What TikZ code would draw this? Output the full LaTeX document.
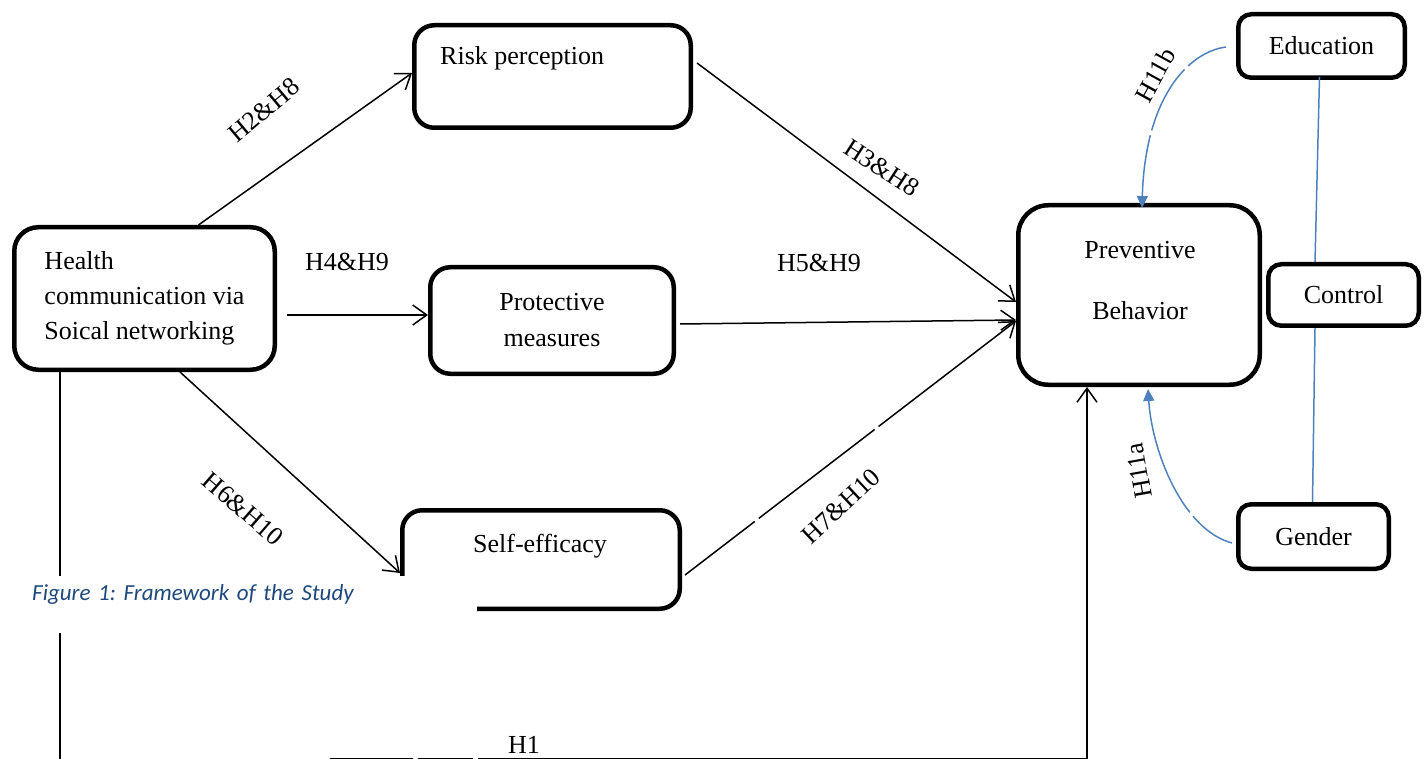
\documentclass[tikz,border=0pt]{standalone}
\usepackage{fontspec}
\setmainfont{Liberation Serif}
\newfontfamily\capfont[WordSpace=0.8]{Carlito}
\usetikzlibrary{arrows.meta,calc}
\definecolor{ublue}{HTML}{4F81BD}
\definecolor{capblue}{HTML}{1F497D}
\begin{document}
\begin{tikzpicture}[x=1pt,y=-1pt,
  box/.style={draw, line width=4.5pt, rounded corners=20pt, inner sep=0pt},
  txt/.style={font=\fontsize{26}{35}\selectfont, inner sep=0pt},
  lab/.style={font=\fontsize{26}{30}\selectfont, inner sep=0pt},
  arr/.style={line width=1.5pt, -{Straight Barb[length=14pt,width=20pt]}},
  bl/.style={draw=ublue, line width=1.5pt},
  blarr/.style={bl, -{Triangle[length=12pt,width=11pt]}}]
\useasboundingbox (0,0) rectangle (1427,759);

% boxes
\node[box, txt, align=left, minimum width=260.5pt, minimum height=142.5pt, rounded corners=24pt] (hc) at (144.5,298.5) {Health\\communication via\\Soical networking};
\node[box, minimum width=276.5pt, minimum height=102.5pt] (rp) at (552.5,76.5) {};
\node[txt, anchor=west] (rpt) at (440,58) {Risk perception};
\node[box, txt, align=center, minimum width=243.5pt, minimum height=106.5pt, font=\fontsize{26}{36}\selectfont] (pm) at (552,320.5) {Protective\\measures};
\node[box, minimum width=277.5pt, minimum height=98.5pt] (se) at (541,559.5) {};
\node[txt] (set) at (540,546) {Self-efficacy};
\node[box, minimum width=241.5pt, minimum height=179.5pt, rounded corners=30pt] (pb) at (1139,295) {};
\node[txt, align=center, font=\fontsize{26}{61}\selectfont] (pbt) at (1140,281) {Preventive\\Behavior};

\node[box, txt, minimum width=166.5pt, minimum height=63.5pt, rounded corners=13pt] (ed) at (1321.5,46) {Education};
\node[box, txt, minimum width=150.5pt, minimum height=61.5pt, rounded corners=13pt] (ct) at (1343.5,295) {Control};
\node[box, txt, minimum width=150.5pt, minimum height=64.5pt, rounded corners=13pt] (ge) at (1313.5,536.5) {Gender};

% blue control lines
\draw[bl] ($(ed.south)+(-2,-3)$) -- ($(ct.north)+(-28.5,0)$);
\draw[bl] ($(ct.south)+(-28.5,0)$) -- ($(ge.north)+(-1,0)$);

% connectors
\draw[arr] ($(hc.north)+(54,0)$) -- ($(rp.west)+(0,-3.5)$);
\draw[arr] ($(hc.east)+(10,16.5)$) -- ($(pm.west)+(0,-5.5)$);
\draw[arr] ($(hc.south)+(35.5,0)$) -- ($(se.west)+(0,13.5)$);
\draw[arr] ($(rp.east)+(4,-13.5)$) -- ($(pb.west)+(0,7)$);
\draw[arr] ($(pm.east)+(4,3.5)$) -- ($(pb.west)+(0,25)$);
\draw[arr, dash pattern=on 88pt off 5pt on 146pt off 5pt on 1000pt] ($(se.east)+(3,15.5)$) -- ($(pb.west)+(0,26)$);
\draw[arr, dash pattern=on 387pt off 270pt on 83pt off 5pt on 55pt off 5pt on 2000pt] ($(hc.south)+(-84.5,0)$) -- ++(0,387) -| ($(pb.south)+(-52,0)$);

\draw[blarr, dash pattern=on 43pt off 5pt on 70pt off 5pt on 500pt] ($(ed.west)+(-10,1)$) .. controls +(-38,5) and +(3,-110) .. ($(pb.north)+(3,5)$);
\draw[blarr, dash pattern=on 48pt off 5pt on 500pt] ($(ge.west)+(-4,6.5)$) .. controls +(-49,-13) and +(4,63) .. ($(pb.south)+(9,2)$);

% labels
\node[lab, rotate=40] (l1) at (264,110) {H2\&H8};
\node[lab] (l2) at (347,262) {H4\&H9};
\node[lab, rotate=-41] (l3) at (243,509) {H6\&H10};
\node[lab, rotate=-33] (l4) at (882,168) {H3\&H8};
\node[lab] (l5) at (819,263) {H5\&H9};
\node[lab, rotate=43] (l6) at (841,506) {H7\&H10};
\node[lab] (l7) at (524,745) {H1};
\node[lab, rotate=61] (l8) at (1155,75) {H11b};
\node[lab, rotate=100] (l9) at (1139,471) {H11a};

% caption
\node[fill=white, inner xsep=0pt, inner ysep=0pt, minimum width=467pt, text width=447pt, align=left, text height=24pt, text depth=33pt, anchor=north west, font={\capfont\itshape\fontsize{23}{28}\selectfont\frenchspacing}, text=capblue] (cap) at (10,576) {\hspace*{12pt}Figure 1: Framework of the Study};
\end{tikzpicture}
\end{document}
